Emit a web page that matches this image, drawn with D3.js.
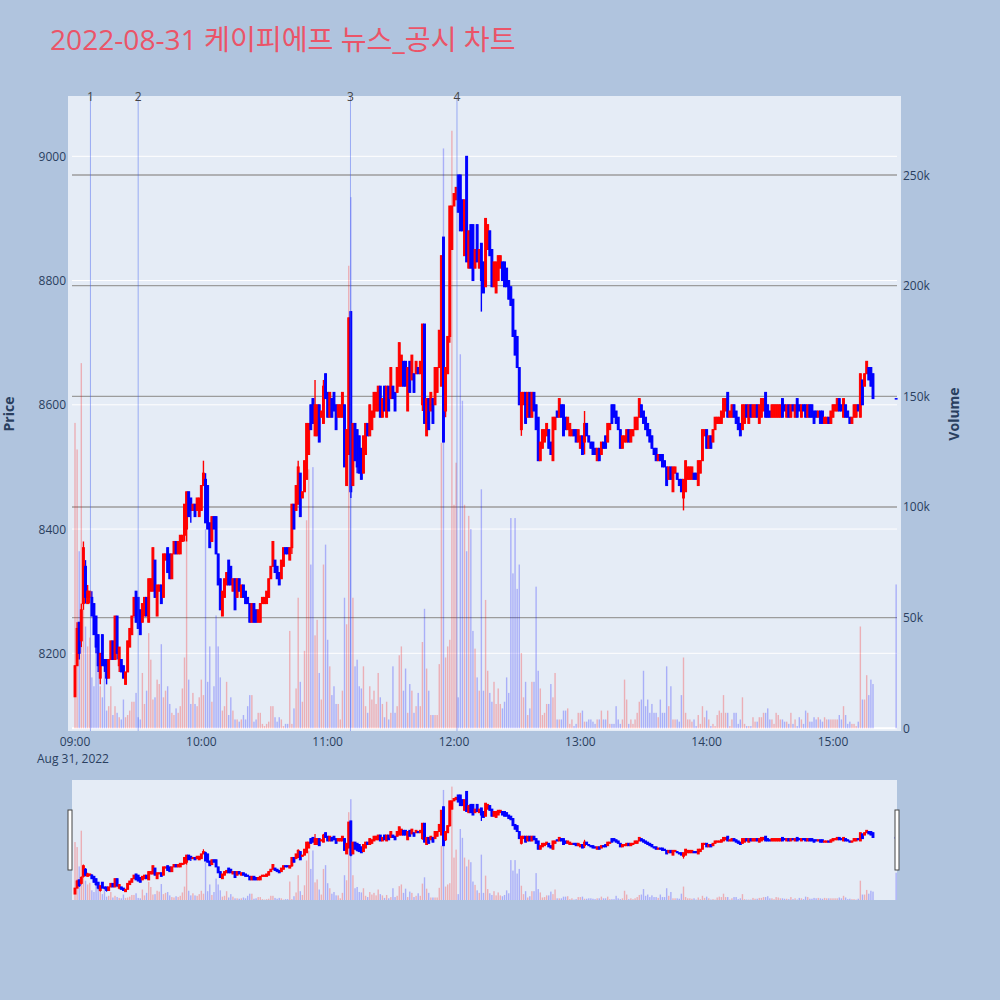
<!DOCTYPE html>
<html><head><meta charset="utf-8">
<script src="https://cdn.jsdelivr.net/npm/d3@7"></script>
<style>body{margin:0;background:#b0c4de;} svg{display:block}</style>
</head><body><svg id="c" width="1000" height="1000"></svg>
<script>
const titleText = "2022-08-31 케이피에프 뉴스_공시 차트";
const startTime = "2022-08-31T09:00:00";
const opens = [
8130,8180,8250,8220,8280,8340,8280,8290,8290,8280,8260,8230,8160,8230,8190,8190,8160,8190,8220,8190,
8260,8180,8190,8180,8150,8170,8210,8230,8260,8300,8290,8270,8250,8260,8290,8250,8300,8300,8350,8260,
8300,8310,8290,8350,8370,8360,8320,8360,8380,8360,8360,8380,8390,8400,
8460,8450,8430,8440,8430,8420,8430,8470,8480,8470,8410,8380,8420,8420,8360,8320,8260,8290,8310,8350,
8340,8300,8320,8290,8320,8290,8310,8300,8290,8280,8250,8280,8270,8250,8250,8280,8280,8280,8290,8320,
8340,8350,8340,8330,8320,8340,8370,8370,8350,8370,8440,8430,8440,8490,8450,8460,8480,8520,
8600,8610,8550,8550,8600,8580,8570,8650,8620,8580,8610,8620,8600,8580,8580,8580,8600,8470,8520,8750,
8470,8570,8560,8550,8530,8490,8520,8570,8550,8560,8580,8590,8590,8630,8580,8630,8580,8630,8610,8630,
8620,8620,8630,8630,8670,8670,8590,8670,8640,8650,8650,8660,8650,8600,8730,
8550,8610,8590,8610,8600,8620,8660,8630,8870,8590,8650,8710,8850,8920,8930,8970,8970,8930,8840,9000,
8820,8890,8890,8820,8890,8820,8860,8830,8790,8850,8880,8850,8790,8780,8800,8820,8830,8830,8820,8800,
8790,8770,8720,8710,8660,8560,8600,8620,8580,8620,8580,8620,8600,8580,8510,8530,8540,8550,8560,8540,
8510,8560,8590,8580,
8600,8600,8580,8560,8550,8550,8560,8560,8540,8530,8550,8540,8570,8550,8540,8540,8530,8510,8530,8520,
8540,8550,8540,8560,8600,8600,8590,8580,8560,8530,8540,8540,8560,8540,8550,8560,8560,8580,8600,8590,
8580,8570,8560,8550,8530,8530,8510,8520,8520,8510,8500,8480,8500,8460,8490,8490,8480,8480,8450,8460,
8480,8480,8480,8490,8490,8470,8490,8510,8550,8560,8530,8550,8540,8560,8570,8570,8570,8580,8590,8620,
8580,8580,8600,8590,8580,8570,8560,8570,8600,8570,8600,8580,8580,8600,8570,8580,8590,8620,8600,8590,
8580,8580,8580,8580,8580,8610,8600,8580,8600,8580,8600,8580,8610,8600,8580,8600,8600,8580,8600,8600,
8590,8590,8580,8590,8590,8570,8570,8580,8570,8580,8590,8590,8610,8600,8580,8600,8590,8580,8570,8580,
8580,8600,8580,8640,8630,8650,8660,8660,8650];
const closes = [
8180,8240,8200,8270,8370,8290,8300,8300,8260,8230,8210,8180,8200,8180,8180,8160,8190,8220,8190,8260,
8200,8210,8170,8160,8170,8220,8240,8260,8290,8250,8240,8230,8280,8290,8260,8320,8320,8370,8290,8310,
8310,8280,8360,8360,8330,8320,8360,8380,8360,8380,8390,8390,8440,8460,
8420,8430,8440,8420,8450,8450,8470,8490,8410,8400,8370,8420,8400,8360,8310,8270,8300,8320,8330,8310,
8310,8320,8270,8320,8300,8310,8290,8280,8280,8250,8280,8250,8250,8270,8280,8290,8290,8300,8320,8340,
8380,8330,8320,8310,8350,8370,8360,8360,8370,8440,8400,8470,8500,8420,8460,8510,8570,8570,
8560,8570,8600,8600,8540,8590,8630,8610,8580,8620,8580,8590,8560,8600,8600,8620,8500,8560,8740,8460,
8570,8510,8500,8490,8480,8550,8570,8550,8600,8590,8620,8620,8630,8580,8610,8590,8630,8590,8660,8610,
8590,8660,8700,8680,8630,8630,8660,8620,8680,8620,8670,8650,8670,8730,8570,
8610,8560,8620,8570,8660,8660,8720,8840,8540,8660,8710,8920,8920,8940,8950,8910,8880,8880,8930,8830,
8880,8820,8800,8850,8830,8850,8800,8780,8900,8890,8840,8790,8830,8830,8840,8840,8800,8790,8790,8770,
8760,8710,8680,8660,8600,8620,8620,8570,8620,8580,8620,8590,8560,8510,8540,8560,8560,8570,8530,8520,
8580,8580,8580,8610,
8580,8550,8560,8580,8570,8560,8550,8540,8560,8550,8520,8570,8550,8540,8530,8520,8520,8530,8510,8540,
8530,8530,8570,8570,8570,8580,8570,8560,8530,8550,8550,8560,8540,8560,8560,8580,8580,8610,8580,8570,
8560,8550,8540,8530,8520,8510,8520,8510,8500,8500,8470,8500,8480,8500,8500,8480,8470,8460,8480,8510,
8500,8500,8500,8480,8480,8510,8510,8560,8560,8530,8550,8530,8560,8580,8580,8580,8590,8610,8610,8580,
8590,8600,8580,8570,8560,8550,8600,8600,8580,8600,8580,8600,8600,8580,8600,8610,8610,8580,8580,8580,
8600,8600,8600,8600,8600,8580,8590,8600,8580,8600,8590,8600,8580,8590,8600,8590,8580,8600,8580,8580,
8570,8580,8590,8570,8570,8580,8580,8570,8590,8600,8600,8610,8590,8590,8610,8580,8580,8570,8580,8600,
8600,8590,8650,8600,8650,8670,8640,8630,8610];
const highs = [
8180,8250,8250,8280,8380,8350,8310,8300,8300,8280,8260,8230,8200,8230,8190,8190,8190,8220,8220,8260,
8260,8210,8190,8180,8170,8220,8240,8260,8290,8300,8290,8270,8280,8290,8290,8320,8320,8370,8350,8310,
8310,8310,8360,8360,8370,8360,8360,8380,8380,8380,8390,8390,8440,8460,
8460,8450,8440,8440,8450,8450,8470,8510,8490,8470,8410,8420,8420,8420,8360,8320,8300,8320,8330,8350,
8340,8320,8320,8320,8320,8310,8310,8300,8290,8280,8280,8280,8270,8270,8280,8290,8290,8300,8320,8340,
8380,8350,8340,8330,8350,8370,8370,8370,8370,8440,8440,8470,8510,8490,8460,8510,8570,8570,
8600,8610,8640,8600,8600,8590,8640,8650,8620,8620,8610,8620,8600,8600,8600,8620,8600,8560,8740,8750,
8570,8570,8560,8550,8530,8550,8570,8570,8600,8590,8620,8620,8630,8630,8610,8630,8630,8630,8660,8630,
8620,8660,8700,8680,8670,8670,8660,8670,8680,8650,8670,8660,8670,8730,8730,
8610,8610,8620,8610,8660,8660,8720,8840,8870,8660,8710,8920,8920,8940,8950,8970,8970,8930,8930,9000,
8880,8890,8890,8850,8890,8850,8860,8830,8900,8890,8880,8850,8830,8830,8840,8840,8830,8830,8820,8800,
8790,8770,8720,8710,8660,8620,8620,8620,8620,8620,8620,8620,8600,8580,8540,8560,8560,8570,8560,8540,
8580,8580,8590,8610,
8600,8600,8580,8580,8570,8560,8560,8560,8560,8550,8550,8590,8570,8550,8540,8540,8530,8530,8530,8540,
8540,8550,8570,8570,8600,8600,8590,8580,8560,8550,8550,8560,8560,8560,8560,8580,8580,8610,8600,8590,
8580,8570,8560,8550,8530,8530,8520,8520,8520,8510,8500,8500,8500,8500,8500,8490,8480,8480,8480,8510,
8500,8500,8500,8490,8490,8510,8510,8560,8560,8560,8550,8550,8560,8580,8580,8580,8590,8610,8610,8620,
8590,8600,8600,8590,8580,8570,8600,8600,8600,8600,8600,8600,8600,8600,8600,8610,8610,8620,8600,8590,
8600,8600,8600,8600,8600,8610,8600,8600,8600,8600,8600,8600,8610,8600,8600,8600,8600,8600,8600,8600,
8590,8590,8590,8590,8590,8580,8580,8580,8590,8600,8600,8610,8610,8600,8610,8600,8590,8580,8580,8600,
8600,8600,8650,8640,8650,8670,8660,8660,8650];
const lows = [
8130,8180,8190,8210,8270,8280,8280,8280,8260,8230,8200,8170,8150,8180,8170,8150,8160,8190,8190,8190,
8190,8170,8170,8160,8150,8170,8210,8230,8260,8250,8240,8230,8250,8260,8260,8250,8300,8300,8290,8260,
8300,8280,8290,8350,8330,8320,8320,8360,8360,8360,8360,8380,8380,8380,
8420,8410,8430,8420,8430,8420,8430,8470,8410,8400,8370,8380,8400,8360,8310,8270,8260,8290,8310,8310,
8310,8300,8270,8290,8300,8290,8290,8280,8280,8250,8250,8250,8250,8250,8250,8280,8280,8280,8290,8320,
8340,8330,8320,8310,8320,8340,8360,8360,8350,8360,8400,8430,8440,8420,8450,8460,8480,8520,
8560,8570,8550,8550,8540,8580,8570,8610,8580,8580,8580,8590,8560,8580,8580,8580,8500,8470,8520,8450,
8470,8510,8490,8490,8480,8490,8520,8550,8550,8560,8580,8590,8590,8580,8580,8590,8580,8590,8610,8610,
8590,8620,8630,8630,8630,8630,8590,8620,8640,8620,8650,8650,8650,8590,8570,
8550,8560,8590,8570,8600,8620,8660,8630,8540,8580,8650,8700,8850,8920,8930,8910,8880,8880,8840,8830,
8820,8820,8800,8820,8830,8820,8750,8780,8790,8850,8840,8790,8790,8780,8800,8820,8800,8790,8790,8770,
8760,8710,8680,8660,8600,8550,8600,8570,8580,8580,8580,8590,8560,8510,8510,8530,8540,8550,8530,8520,
8510,8560,8580,8580,
8580,8550,8560,8560,8550,8550,8550,8540,8540,8530,8520,8520,8550,8540,8530,8520,8520,8510,8510,8520,
8530,8530,8540,8560,8570,8580,8570,8560,8530,8530,8540,8540,8540,8540,8550,8560,8560,8580,8580,8570,
8560,8550,8540,8530,8520,8510,8510,8510,8500,8500,8470,8480,8480,8460,8490,8480,8470,8460,8430,8460,
8480,8480,8480,8480,8480,8470,8490,8510,8550,8530,8530,8530,8540,8560,8570,8570,8570,8580,8590,8580,
8580,8580,8580,8570,8560,8550,8560,8570,8580,8570,8580,8580,8580,8580,8570,8580,8590,8580,8580,8580,
8580,8580,8580,8580,8580,8580,8590,8580,8580,8580,8590,8580,8580,8590,8580,8590,8580,8580,8580,8580,
8570,8580,8580,8570,8570,8570,8570,8570,8570,8580,8590,8590,8590,8590,8580,8580,8580,8570,8570,8580,
8580,8590,8580,8600,8630,8650,8640,8630,8610];
// volume in thousands of shares
const volumes = [
138,126,80,165,60,46,37,41,23,19,37,26,19,14,28,8,10,19,6,10,
7,5,4,13,5,6,8,12,12,16,5,4,25,11,17,43,31,13,14,22,
20,38,14,17,19,11,7,6,9,7,10,18,32,92,
22,11,16,11,10,14,22,15,90,21,37,12,19,51,37,23,8,10,21,6,
14,8,4,4,3,4,6,4,10,15,15,3,4,7,7,2,1,2,3,10,
10,5,3,5,4,1,2,2,44,2,9,18,59,21,12,35,94,117,
74,118,42,49,25,13,74,83,40,28,15,19,11,11,4,17,59,47,209,240,
59,28,31,19,18,28,10,7,19,13,17,11,25,14,11,5,12,4,7,28,
7,10,33,37,17,27,7,20,17,7,10,16,10,39,54,
27,17,6,6,6,6,29,129,262,32,37,40,270,101,120,14,169,148,101,80,
96,90,44,36,23,17,108,17,58,26,16,12,21,11,18,11,9,12,23,16,
95,70,95,63,74,34,14,21,6,9,21,21,64,26,18,6,7,11,11,20,
14,25,4,4,
4,8,8,9,2,4,1,2,7,7,8,3,3,4,4,3,2,4,4,8,
4,4,8,2,2,2,10,4,2,4,22,13,2,4,2,4,7,12,13,26,
10,13,7,11,7,7,5,13,7,7,28,10,19,4,4,4,3,15,32,7,
4,4,3,4,1,6,2,10,5,8,4,1,2,1,6,8,7,15,7,7,
1,4,7,7,2,4,14,2,1,1,1,5,3,3,5,5,7,7,9,4,
4,2,7,6,4,4,3,3,2,7,2,4,1,5,4,2,8,7,3,3,
5,4,5,4,3,5,4,4,4,4,4,4,6,4,10,6,2,3,2,2,
1,3,46,13,13,24,15,22,20];
const auctionTime = "2022-08-31T15:30:00";
const auctionPrice = 8610;
const auctionVolume = 65;
const newsTimes = ["2022-08-31T09:07:20","2022-08-31T09:30:00","2022-08-31T11:10:50","2022-08-31T12:01:25"];
const newsLabels = ["1","2","3","4"];
const priceTicks = [8200,8400,8600,8800,9000];
const volumeTicks = [0,50,100,150,200,250];
const timeTicks = ["09:00","10:00","11:00","12:00","13:00","14:00","15:00"];

const parse = d3.timeParse("%Y-%m-%dT%H:%M:%S");
const t0 = parse(startTime);
const data = opens.map((o,i)=>({t:new Date(t0.getTime()+i*60000),o,h:highs[i],l:lows[i],c:closes[i],v:volumes[i]}));
data.push({t:parse(auctionTime),o:auctionPrice,h:auctionPrice,l:auctionPrice,c:auctionPrice,v:auctionVolume});

const svg = d3.select("#c");
const FONT = "'Open Sans','Noto Sans CJK KR',sans-serif";
const TXT = "#2a3f5f";
const UP = "#ff0000", DN = "#0000ff";

const xDomain = [new Date(t0.getTime()-85500), new Date(parse(auctionTime).getTime()+24000)];
const x = d3.scaleTime().domain(xDomain).range([72,897]);
const yP = d3.scaleLinear().domain([8200,9000]).range([653.3,156.3]);
const yV = d3.scaleLinear().domain([0,250]).range([728.3,175]);

// title
const tt = svg.append("text").attr("x",50).attr("y",50).attr("fill","#eb5468")
  .attr("font-family",FONT).attr("font-size",27).text(titleText);
const tl = tt.node().getComputedTextLength();
tt.attr("font-size", 27*466/tl);

// main background
svg.append("rect").attr("x",68).attr("y",96).attr("width",833).attr("height",635).attr("fill","#e5ecf6");

const main = svg.append("g");
main.selectAll(".pg").data(priceTicks).join("line")
  .attr("x1",72).attr("x2",897).attr("y1",d=>yP(d)).attr("y2",d=>yP(d))
  .attr("stroke","#fff").attr("stroke-width",1);
main.append("line").attr("x1",72).attr("x2",897).attr("y1",yV(0)).attr("y2",yV(0))
  .attr("stroke","#fff").attr("stroke-width",2);
main.selectAll(".vg").data(volumeTicks.filter(d=>d>0)).join("line")
  .attr("x1",72).attr("x2",897).attr("y1",d=>yV(d)).attr("y2",d=>yV(d))
  .attr("stroke","#9c9c9c").attr("stroke-width",1.3);

function drawSeries(g, xs, yp, yv, opt){
  g.selectAll(".vb").data(data).join("rect")
    .attr("x",d=>xs(d.t)-opt.vw/2).attr("y",d=>yv(d.v))
    .attr("width",opt.vw).attr("height",d=>Math.max(0,yv(0)-yv(d.v)))
    .attr("fill",d=>d.c>d.o?"rgba(255,0,0,0.26)":"rgba(0,0,255,0.26)");
  g.selectAll(".wk").data(data).join("line")
    .attr("x1",d=>xs(d.t)).attr("x2",d=>xs(d.t))
    .attr("y1",d=>yp(d.h)).attr("y2",d=>yp(d.l))
    .attr("stroke",d=>d.c>d.o?UP:DN).attr("stroke-width",opt.ww);
  g.selectAll(".bd").data(data).join("rect")
    .attr("x",d=>xs(d.t)-opt.bw/2)
    .attr("y",d=>yp(Math.max(d.o,d.c)))
    .attr("width",opt.bw)
    .attr("height",d=>Math.max(opt.minH, yp(Math.min(d.o,d.c))-yp(Math.max(d.o,d.c))))
    .attr("fill",d=>d.c>d.o?UP:DN)
    .attr("stroke",d=>d.c>d.o?UP:DN).attr("stroke-width",opt.sw);
}
drawSeries(main.append("g"), x, yP, yV, {vw:1.4, ww:1.4, bw:1.9, sw:1, minH:0.5});

const news = newsTimes.map((s,i)=>({t:parse(s),label:newsLabels[i]}));
main.selectAll(".nl").data(news).join("line")
  .attr("x1",d=>x(d.t)).attr("x2",d=>x(d.t)).attr("y1",96).attr("y2",731)
  .attr("stroke","rgba(60,90,240,0.45)").attr("stroke-width",1);
main.selectAll(".nt").data(news).join("text")
  .attr("x",d=>x(d.t)).attr("y",101).attr("text-anchor","middle")
  .attr("font-family",FONT).attr("font-size",12).attr("fill","#444").text(d=>d.label);

svg.selectAll(".pt").data(priceTicks).join("text")
  .attr("x",66).attr("y",d=>yP(d)+4.5).attr("text-anchor","end")
  .attr("font-family",FONT).attr("font-size",12).attr("fill",TXT).text(d=>d);
svg.selectAll(".vt").data(volumeTicks).join("text")
  .attr("x",903).attr("y",d=>yV(d)+4.5).attr("text-anchor","start")
  .attr("font-family",FONT).attr("font-size",12).attr("fill",TXT).text(d=>d===0?"0":d+"k");
const tp = d3.timeParse("%H:%M");
svg.selectAll(".xt").data(timeTicks).join("text")
  .attr("x",d=>{const p=tp(d); return x(new Date(t0.getFullYear(),t0.getMonth(),t0.getDate(),p.getHours(),p.getMinutes()));})
  .attr("y",746).attr("text-anchor","middle")
  .attr("font-family",FONT).attr("font-size",12).attr("fill",TXT).text(d=>d);
svg.append("text").attr("x",x(t0)-2).attr("y",763).attr("text-anchor","middle")
  .attr("font-family",FONT).attr("font-size",12).attr("fill",TXT).text(d3.timeFormat("%b %-d, %Y")(t0));
svg.append("text").attr("transform","translate(14,414) rotate(-90)").attr("text-anchor","middle")
  .attr("font-family",FONT).attr("font-size",14).attr("font-weight","bold").attr("fill",TXT).text("Price");
svg.append("text").attr("transform","translate(959,414) rotate(-90)").attr("text-anchor","middle")
  .attr("font-family",FONT).attr("font-size",14).attr("font-weight","bold").attr("fill",TXT).text("Volume");

// range slider
const yPs = d3.scaleLinear().domain([yP.invert(728.3), yP.invert(96)]).range([900,780]);
const yVs = d3.scaleLinear().domain([0, yV.invert(96)]).range([900,780]);
svg.append("rect").attr("x",72).attr("y",780).attr("width",825).attr("height",120).attr("fill","#e5ecf6");
svg.append("defs").append("clipPath").attr("id","sc").append("rect")
  .attr("x",72).attr("y",780).attr("width",825).attr("height",120);
const sl = svg.append("g").attr("clip-path","url(#sc)");
drawSeries(sl, x, yPs, yVs, {vw:1.4, ww:1.2, bw:1.9, sw:1, minH:0.8});
[70,897].forEach(hx=>{
  svg.append("rect").attr("x",hx-2).attr("y",810).attr("width",4).attr("height",60)
    .attr("fill","#fff").attr("stroke","#444").attr("stroke-width",1);
});
</script></body></html>
